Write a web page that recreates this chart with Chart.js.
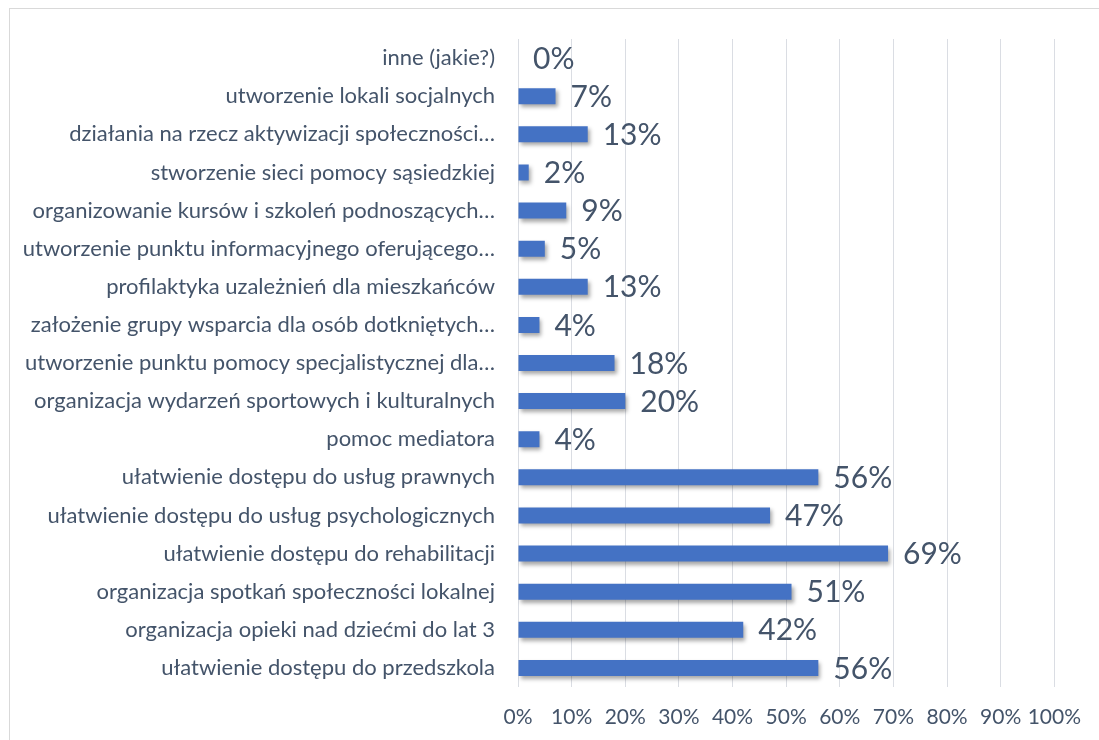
<!DOCTYPE html>
<html>
<head>
<meta charset="utf-8">
<script src="https://cdn.jsdelivr.net/npm/chart.js@4.4.1/dist/chart.umd.min.js"></script>
<style>
  html, body { margin: 0; padding: 0; background: #fff; }
  #wrap { position: relative; width: 1099px; height: 740px; overflow: hidden; }
  #frame { position: absolute; left: 9px; top: 8px; width: 1200px; height: 800px; border: 1px solid #D9D9D9; box-sizing: border-box; }
  canvas { position: absolute; left: 0; top: 0; }
</style>
</head>
<body>
<div id="wrap">
  <div id="frame"></div>
  <canvas id="c" width="1099" height="740"></canvas>
</div>
<script>
const categories = [
  "inne (jakie?)",
  "utworzenie lokali socjalnych",
  "działania na rzecz aktywizacji społeczności…",
  "stworzenie sieci pomocy sąsiedzkiej",
  "organizowanie kursów i szkoleń podnoszących…",
  "utworzenie punktu informacyjnego oferującego…",
  "profilaktyka uzależnień dla mieszkańców",
  "założenie grupy wsparcia dla osób dotkniętych…",
  "utworzenie punktu pomocy specjalistycznej dla…",
  "organizacja wydarzeń sportowych i kulturalnych",
  "pomoc mediatora",
  "ułatwienie dostępu do usług prawnych",
  "ułatwienie dostępu do usług psychologicznych",
  "ułatwienie dostępu do rehabilitacji",
  "organizacja spotkań społeczności lokalnej",
  "organizacja opieki nad dziećmi do lat 3",
  "ułatwienie dostępu do przedszkola"
];
const values = [0, 7, 13, 2, 9, 5, 13, 4, 18, 20, 4, 56, 47, 69, 51, 42, 56];
const xTicks = [0, 10, 20, 30, 40, 50, 60, 70, 80, 90, 100];

const TEXT = '#44546A';
const FONT = 'Lato, "Open Sans", sans-serif';

const barShadow = {
  id: 'barShadow',
  beforeDatasetsDraw(chart) {
    const ctx = chart.ctx;
    ctx.save();
    ctx.shadowColor = 'rgba(0,0,0,0.35)';
    ctx.shadowBlur = 4;
    ctx.shadowOffsetX = 2;
    ctx.shadowOffsetY = 3;
  },
  afterDatasetsDraw(chart) {
    const ctx = chart.ctx;
    ctx.restore();
    const meta = chart.getDatasetMeta(0);
    ctx.save();
    ctx.font = '30px ' + FONT;
    ctx.fillStyle = TEXT;
    ctx.textAlign = 'left';
    ctx.textBaseline = 'middle';
    meta.data.forEach((bar, i) => {
      ctx.fillText(values[i] + '%', bar.x + 15, bar.y + 1);
    });
    ctx.restore();
  }
};

new Chart(document.getElementById('c'), {
  type: 'bar',
  data: {
    labels: categories,
    datasets: [{
      data: values,
      backgroundColor: '#4472C4',
      borderWidth: 0,
      categoryPercentage: 1,
      barPercentage: 0.42
    }]
  },
  options: {
    indexAxis: 'y',
    responsive: false,
    animation: false,
    layout: { padding: { top: 39, right: 40, left: 0, bottom: 0 } },
    plugins: { legend: { display: false }, tooltip: { enabled: false } },
    scales: {
      x: {
        min: 0, max: 100,
        afterBuildTicks(s) { s.ticks = xTicks.map(v => ({ value: v })); },
        afterFit(s) { s.height = 53; },
        ticks: {
          padding: 18,
          color: TEXT,
          font: { family: FONT, size: 21 },
          maxRotation: 0,
          minRotation: 0,
          autoSkip: false,
          callback: (v) => v + '%'
        },
        grid: { color: '#DADDE3', lineWidth: 1, drawTicks: false },
        border: { display: false }
      },
      y: {
        afterFit(s) { s.width = 518; },
        ticks: {
          padding: 23,
          color: TEXT,
          font: { family: FONT, size: 22 },
          autoSkip: false
        },
        grid: { display: false, drawTicks: false },
        border: { display: false }
      }
    }
  },
  plugins: [barShadow]
});
</script>
</body>
</html>
